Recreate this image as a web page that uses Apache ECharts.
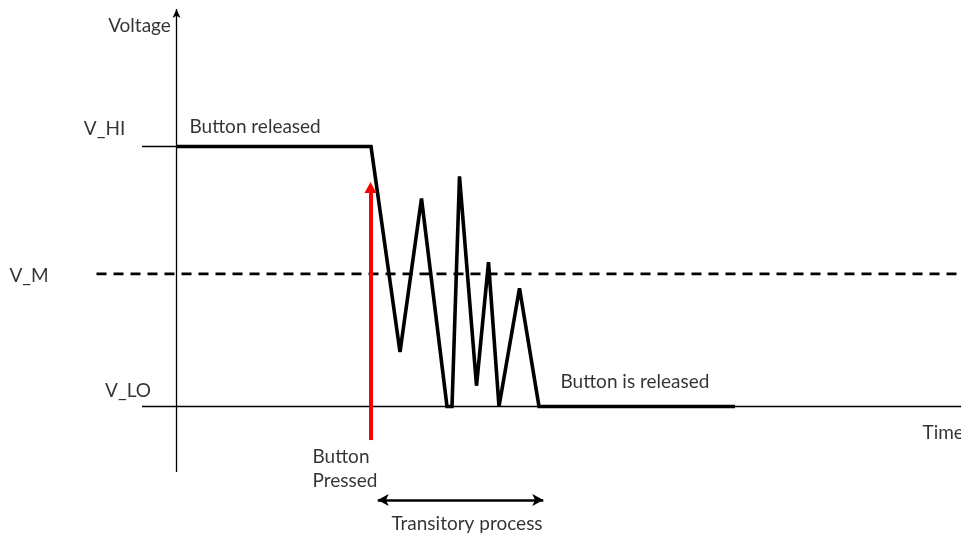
<!DOCTYPE html>
<html><head><meta charset="utf-8">
<script src="https://cdn.jsdelivr.net/npm/echarts@6/dist/echarts.min.js"></script>
<style>html,body{margin:0;padding:0;background:#fff}#chart{width:961px;height:535px}</style>
</head><body><div id="chart"></div>
<script>
// Voltage levels (relative units: V_LO = 0, V_HI = 1)
const levelNames = ['V_HI', 'V_M', 'V_LO'];
const levelValues = [1, 0.51, 0];

// Bouncing signal: time (arbitrary units) and voltage (relative units)
const signalTime = [0, 19.45, 22.35, 24.5, 27.05, 27.55, 28.3, 30.0, 31.2, 32.25, 34.3, 36.25, 55.85];
const signalVolt = [1, 1, 0.21, 0.80, 0, 0, 0.885, 0.08, 0.555, 0, 0.455, 0, 0];

// Extents of guide lines / arrows (data units)
const guideStart = -3.45;
const dashedStart = -8.0;
const timeEnd = 78.45;
const voltAxisBottom = -0.252;
const voltAxisTop = 1.529;
const pressTime = 19.4;
const pressFrom = -0.129;
const pressTo = 0.842;
const transStart = 20.12;
const transEnd = 36.68;
const transLevel = -0.36;

// Annotation texts
const labels = [
  { text: 'Voltage', t: -3.65, v: 1.463, align: 'center' },
  { text: 'V_HI', t: -7.15, v: 1.065, align: 'center' },
  { text: 'Button released', t: 1.35, v: 1.075, align: 'left' },
  { text: 'V_M', t: -14.7, v: 0.502, align: 'center' },
  { text: 'V_LO', t: -4.8, v: 0.0596, align: 'center' },
  { text: 'Button is released', t: 38.45, v: 0.094, align: 'left' },
  { text: 'Time', t: 74.65, v: -0.102, align: 'left' },
  { text: 'Button\nPressed', t: 13.65, v: -0.240, align: 'left' },
  { text: 'Transitory process', t: 29.1, v: -0.452, align: 'center' }
];

const FONT = 'Lato';
const chart = echarts.init(document.getElementById('chart'), null, { renderer: 'canvas' });

const black = '#000000';
const thin = 1.3;

chart.setOption({
  animation: false,
  backgroundColor: '#ffffff',
  grid: { left: 0, right: 0, top: 0, bottom: 0 },
  xAxis: { type: 'value', min: -17.65, max: 78.45, show: false },
  yAxis: { type: 'value', min: -0.4942, max: 1.5635, show: false },
  series: [
    {
      type: 'line', name: levelNames[0] + ' guide', symbol: 'none', silent: true,
      data: [[guideStart, levelValues[0]], [0, levelValues[0]]],
      lineStyle: { color: black, width: thin }
    },
    {
      type: 'line', name: 'Time axis', symbol: 'none', silent: true,
      data: [[guideStart, levelValues[2]], [timeEnd, levelValues[2]]],
      lineStyle: { color: black, width: thin }
    },
    {
      type: 'line', name: levelNames[1], symbol: 'none', silent: true,
      data: [[dashedStart, levelValues[1]], [timeEnd, levelValues[1]]],
      lineStyle: { color: black, width: 2.6, type: [10, 7] }
    },
    {
      type: 'line', name: 'Signal', symbol: 'none', silent: true, z: 3,
      data: signalTime.map((t, i) => [t, signalVolt[i]]),
      lineStyle: { color: black, width: 3.6, join: 'miter', miterLimit: 3 }
    },
    {
      type: 'line', name: 'Arrows', symbol: 'none', silent: true, z: 4,
      data: [],
      markLine: {
        silent: true,
        animation: false,
        label: { show: false },
        emphasis: { disabled: true },
        lineStyle: { type: 'solid' },
        data: [
          [
            { coord: [0, voltAxisBottom], symbol: 'none', lineStyle: { color: black, width: thin, type: 'solid' } },
            { coord: [0, voltAxisTop], symbol: 'arrow', symbolSize: [6, 9] }
          ],
          [
            { coord: [pressTime, pressFrom], symbol: 'none', lineStyle: { color: '#ff0000', width: 4, type: 'solid' } },
            { coord: [pressTime, pressTo], symbol: 'triangle', symbolSize: [12, 11] }
          ],
          [
            { coord: [transStart, transLevel], symbol: 'arrow', symbolSize: [9, 11], lineStyle: { color: black, width: 2.7, type: 'solid' } },
            { coord: [transEnd, transLevel], symbol: 'arrow', symbolSize: [9, 11] }
          ]
        ]
      }
    },
    {
      type: 'scatter', name: 'Labels', silent: true, symbolSize: 1, z: 5,
      itemStyle: { color: 'rgba(0,0,0,0)' },
      data: labels.map(l => ({
        value: [l.t, l.v],
        label: {
          show: true, formatter: l.text, position: [0, 0],
          align: l.align, verticalAlign: 'middle',
          fontFamily: FONT, fontSize: 19, color: '#000000', lineHeight: 24
        }
      }))
    }
  ]
});
</script>
</body></html>
